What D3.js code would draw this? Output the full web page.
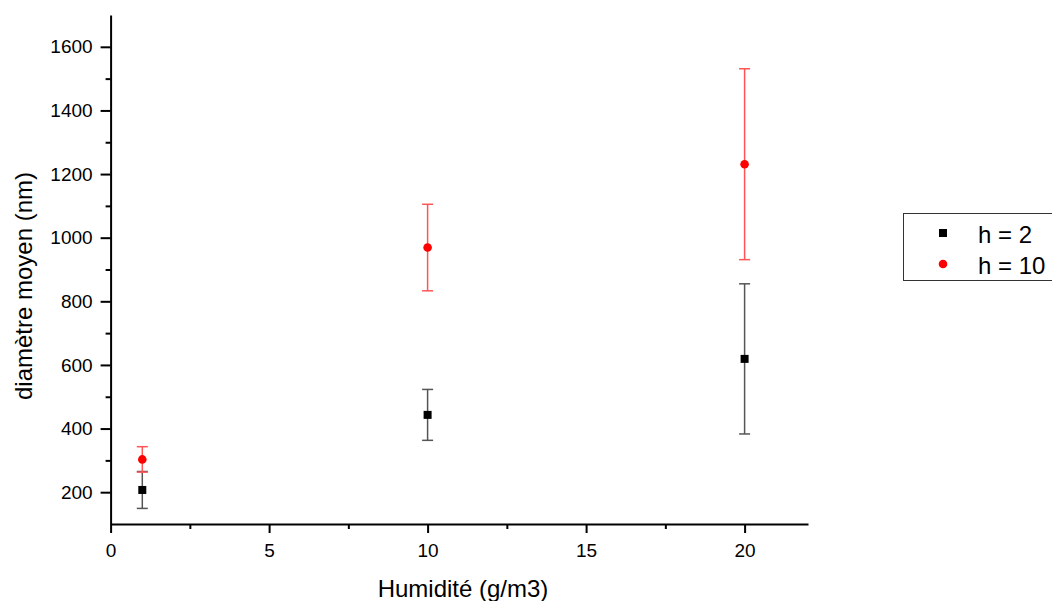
<!DOCTYPE html>
<html>
<head>
<meta charset="utf-8">
<script src="https://cdn.jsdelivr.net/npm/d3@7"></script>
<style>
  body { margin: 0; background: #fff; }
  svg { font-family: "Liberation Sans", Arial, sans-serif; }
</style>
</head>
<body>
<div id="chart"></div>
<script>
// humidity values (g/m3)
var humidity = [1, 10, 20];
// mean diameter (nm) and error bars, h = 2
var diamH2 = [207, 443, 619];
var errH2 = [58, 80, 236];
// mean diameter (nm) and error bars, h = 10
var diamH10 = [303, 969, 1231];
var errH10 = [40, 136, 300];

var seriesNames = ["h = 2", "h = 10"];
var xTicks = [0, 5, 10, 15, 20];
var yTicks = [200, 400, 600, 800, 1000, 1200, 1400, 1600];

var width = 1052, height = 601;
var margin = { left: 110.6, top: 15, right: 1052 - 808, bottom: 601 - 524 };

var svg = d3.select("#chart").append("svg")
    .attr("width", width)
    .attr("height", height);

var x = d3.scaleLinear()
    .domain([0, 22])
    .range([margin.left, width - margin.right]);

var y = d3.scaleLinear()
    .domain([100, 1700])
    .range([height - margin.bottom, margin.top]);

// minor ticks
var xMinor = d3.range(2.5, 22, 5);
var yMinor = d3.range(300, 1700, 200);

svg.append("g")
    .attr("transform", "translate(0," + y(100) + ")")
    .call(d3.axisBottom(x).tickValues(xMinor).tickSize(5).tickFormat(""))
    .call(function(g) { g.select(".domain").remove(); g.selectAll("line").attr("stroke-width", 2); });

svg.append("g")
    .attr("transform", "translate(" + x(0) + ",0)")
    .call(d3.axisLeft(y).tickValues(yMinor).tickSize(5).tickFormat(""))
    .call(function(g) { g.select(".domain").remove(); g.selectAll("line").attr("stroke-width", 2); });

var xAxis = svg.append("g")
    .attr("transform", "translate(0," + y(100) + ")")
    .call(d3.axisBottom(x).tickValues(xTicks).tickSize(9).tickSizeOuter(0).tickPadding(11).tickFormat(d3.format("d")));
xAxis.select(".domain").attr("stroke-width", 2);
xAxis.selectAll("line").attr("stroke-width", 2);
xAxis.selectAll("text").style("font-size", "19px").attr("fill", "#000");

var yAxis = svg.append("g")
    .attr("transform", "translate(" + x(0) + ",0)")
    .call(d3.axisLeft(y).tickValues(yTicks).tickSize(10).tickSizeOuter(0).tickPadding(8).tickFormat(d3.format("d")));
yAxis.select(".domain").attr("stroke-width", 2);
yAxis.selectAll("line").attr("stroke-width", 2);
yAxis.selectAll("text").style("font-size", "19px").attr("fill", "#000");

// axis titles
svg.append("text")
    .attr("x", 463)
    .attr("y", 597)
    .attr("text-anchor", "middle")
    .style("font-size", "24px")
    .text("Humidité (g/m3)");

svg.append("text")
    .attr("transform", "translate(32," + 286 + ") rotate(-90)")
    .attr("text-anchor", "middle")
    .style("font-size", "24px")
    .text("diamètre moyen (nm)");

function drawSeries(vals, errs, color, barColor, shape) {
    var g = svg.append("g");
    var data = humidity.map(function(h, i) { return { h: h, v: vals[i], e: errs[i] }; });

    g.selectAll(".bar").data(data).enter().append("line")
        .attr("x1", function(d) { return x(d.h); })
        .attr("x2", function(d) { return x(d.h); })
        .attr("y1", function(d) { return y(d.v - d.e); })
        .attr("y2", function(d) { return y(d.v + d.e); })
        .attr("stroke", barColor)
        .attr("stroke-width", 1.5);

    [1, -1].forEach(function(s) {
        g.selectAll(".cap").data(data).enter().append("line")
            .attr("x1", function(d) { return x(d.h) - 5.5; })
            .attr("x2", function(d) { return x(d.h) + 5.5; })
            .attr("y1", function(d) { return y(d.v + s * d.e); })
            .attr("y2", function(d) { return y(d.v + s * d.e); })
            .attr("stroke", barColor)
            .attr("stroke-width", 1.5);
    });

    if (shape == "square") {
        g.selectAll(".pt").data(data).enter().append("rect")
            .attr("x", function(d) { return x(d.h) - 4; })
            .attr("y", function(d) { return y(d.v) - 4; })
            .attr("width", 8)
            .attr("height", 8)
            .attr("fill", color);
    } else {
        g.selectAll(".pt").data(data).enter().append("circle")
            .attr("cx", function(d) { return x(d.h); })
            .attr("cy", function(d) { return y(d.v); })
            .attr("r", 4.3)
            .attr("fill", color);
    }
}

drawSeries(diamH2, errH2, "#000", "#555", "square");
drawSeries(diamH10, errH10, "#ff0000", "#ff5555", "circle");

// legend
var legend = svg.append("g");
legend.append("rect")
    .attr("x", 903.5)
    .attr("y", 213.5)
    .attr("width", 160)
    .attr("height", 67)
    .attr("fill", "#fff")
    .attr("stroke", "#333")
    .attr("stroke-width", 1);

legend.append("rect")
    .attr("x", 939).attr("y", 229).attr("width", 8).attr("height", 8)
    .attr("fill", "#000");
legend.append("circle")
    .attr("cx", 943).attr("cy", 264).attr("r", 4.3)
    .attr("fill", "#ff0000");

legend.selectAll(".lt").data(seriesNames).enter().append("text")
    .attr("x", 978)
    .attr("y", function(d, i) { return 242.5 + i * 31; })
    .style("font-size", "24px")
    .text(function(d) { return d; });
</script>
</body>
</html>
